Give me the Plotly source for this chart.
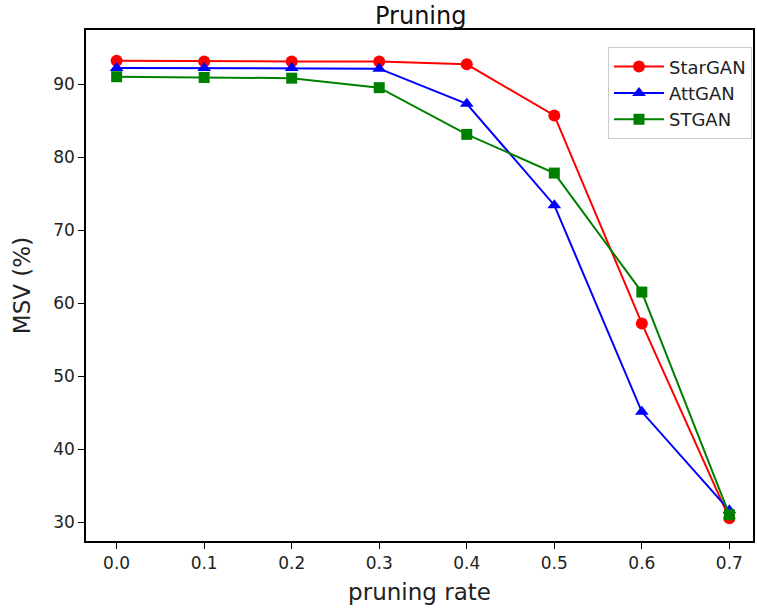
import plotly.graph_objects as go

rates = [0.0, 0.1, 0.2, 0.3, 0.4, 0.5, 0.6, 0.7]
stargan = [93.2, 93.1, 93.1, 93.1, 92.7, 85.7, 57.2, 30.5]
attgan = [92.2, 92.2, 92.2, 92.1, 87.3, 73.4, 45.1, 31.6]
stgan = [91.0, 90.9, 90.8, 89.5, 83.1, 77.8, 61.5, 31.0]

series = [
    ("StarGAN", stargan, "#ff0000", "circle", 12),
    ("AttGAN", attgan, "#0000ff", "triangle-up", 12),
    ("STGAN", stgan, "#008000", "square", 11),
]

fig = go.Figure()
for name, vals, col, sym, sz in series:
    fig.add_trace(go.Scatter(
        x=rates, y=vals, name=name, mode="lines+markers", legendgroup=name,
        line=dict(color=col, width=2),
        marker=dict(symbol=sym, color=col, size=sz),
    ))

font = "DejaVu Sans"
fig.update_layout(
    width=757, height=609,
    margin=dict(l=86, r=2, t=30, b=68),
    paper_bgcolor="white", plot_bgcolor="white",
    font=dict(family=font, color="#222222", size=17),
    title=dict(text="Pruning", x=0.5558, xanchor="center", y=0.974, yanchor="middle",
               font=dict(size=24, color="#111111")),
    legend=dict(x=0.9985, xanchor="right", y=0.966, yanchor="top",
                bordercolor="#cccccc", borderwidth=1, bgcolor="white",
                font=dict(size=18), tracegroupgap=0, itemwidth=50),
    showlegend=True,
)
fig.update_xaxes(
    range=[-0.035, 0.727], tickvals=rates, ticktext=[f"{r:.1f}" for r in rates],
    showgrid=False, zeroline=False, showline=True, linecolor="black", linewidth=1.5,
    mirror=True, ticks="outside", ticklen=6, tickcolor="black",
    title=dict(text="pruning rate", font=dict(size=23), standoff=12),
)
fig.update_yaxes(
    range=[27.4, 97.4], tickvals=[30, 40, 50, 60, 70, 80, 90],
    showgrid=False, zeroline=False, showline=True, linecolor="black", linewidth=1.5,
    mirror=True, ticks="outside", ticklen=6, tickcolor="black",
    title=dict(text="MSV (%)", font=dict(size=23), standoff=16),
)
fig.write_html("out.html")
